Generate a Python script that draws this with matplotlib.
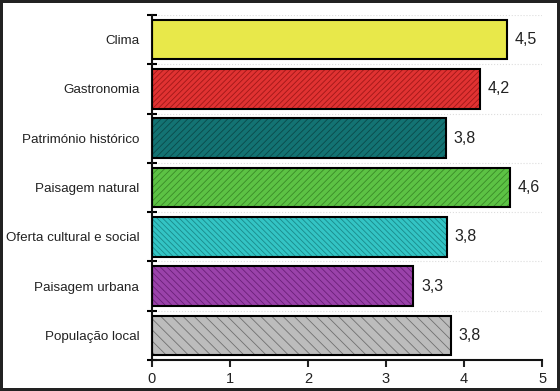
import matplotlib.pyplot as plt
import numpy as np

plt.rcParams['font.family'] = ['Liberation Sans', 'DejaVu Sans']
plt.rcParams['hatch.linewidth'] = 0.6

categories = ['Clima', 'Gastronomia', 'Património histórico', 'Paisagem natural',
              'Oferta cultural e social', 'Paisagem urbana', 'População local']
values = [4.55, 4.2, 3.77, 4.59, 3.78, 3.35, 3.83]
value_labels = ['4,5', '4,2', '3,8', '4,6', '3,8', '3,3', '3,8']
colors = ['#e8e84a', '#e03232', '#137373', '#5cc244', '#33c4c4', '#9a42aa', '#bcbcbc']
hatch_colors = ['#e8e84a', '#a01818', '#0a4a4a', '#3a8a28', '#1a8a8a', '#6a2078', '#707070']
hatches = ['', '//////', '/////', '/////', '\\\\\\\\\\\\', '\\\\\\\\\\', '\\\\\\']

fig = plt.figure(figsize=(5.6, 3.91), dpi=100)
fig.patch.set_edgecolor('#222222')
fig.patch.set_linewidth(3)
ax = fig.add_axes([0.271, 0.079, 0.697, 0.883])

y = np.arange(len(categories))
for i in range(len(categories)):
    ax.barh(y[i], values[i], height=0.8, color=colors[i], hatch=hatches[i],
            edgecolor=hatch_colors[i], linewidth=0, zorder=2)
    ax.barh(y[i], values[i], height=0.8, fill=False, edgecolor='black',
            linewidth=1.5, zorder=3)
    ax.text(values[i] + 0.1, y[i], value_labels[i], va='center', ha='left',
            fontsize=11.5, color='#222222')

ax.set_xlim(0, 5)
ax.set_ylim(len(categories) - 0.5, -0.5)
ax.set_xticks(range(6))
ax.set_yticks(y)
ax.set_yticklabels(categories, fontsize=9.6, color='#222222')
ax.set_yticks(np.arange(-0.5, len(categories), 1), minor=True)
ax.tick_params(axis='y', which='major', length=0, pad=9)
ax.tick_params(axis='y', which='minor', direction='inout', length=7, width=1.5)
ax.tick_params(axis='x', direction='out', length=5, width=1.5, labelsize=10.5, colors='#222222')
ax.grid(axis='y', which='minor', linestyle=':', color='#dddddd', linewidth=0.8, zorder=0)

for s in ['top', 'right']:
    ax.spines[s].set_visible(False)
for s in ['left', 'bottom']:
    ax.spines[s].set_linewidth(1.5)
    ax.spines[s].set_color('#111111')

fig.savefig('out.png', dpi=100, edgecolor=fig.get_edgecolor())
